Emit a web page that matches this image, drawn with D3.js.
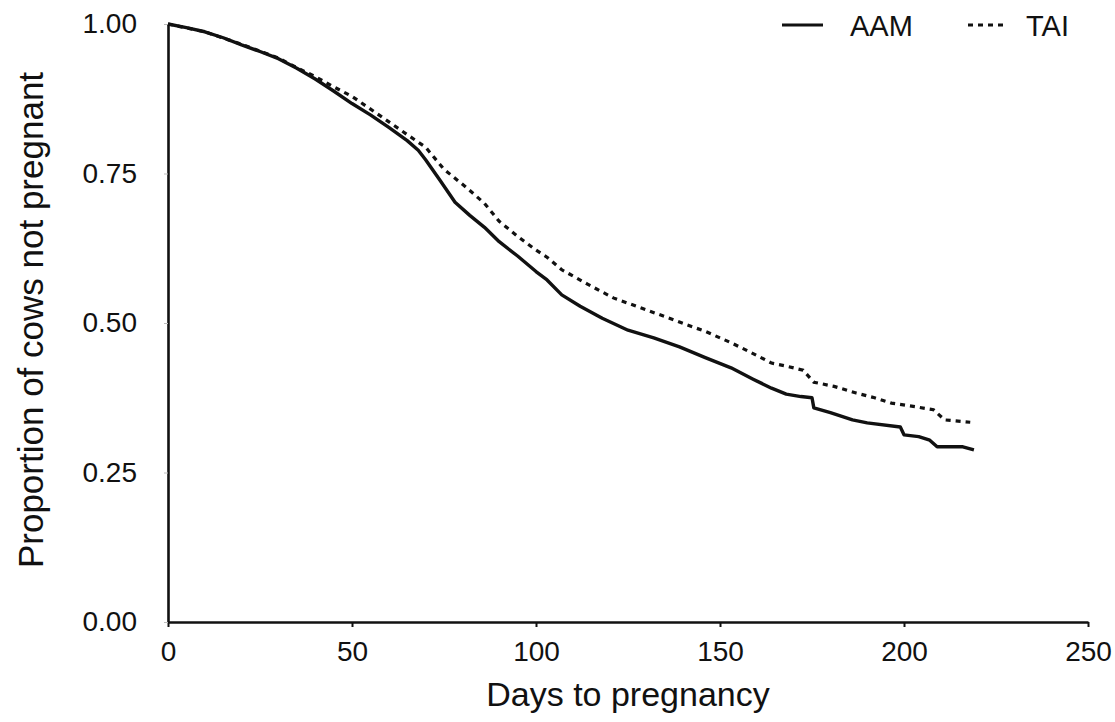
<!DOCTYPE html>
<html>
<head>
<meta charset="utf-8">
<script src="https://cdn.jsdelivr.net/npm/d3@7"></script>
<style>
  html, body { margin: 0; padding: 0; background: #fff; }
  svg text { font-family: "Liberation Sans", Arial, Helvetica, sans-serif; fill: #111; }
</style>
</head>
<body>
<svg id="chart" width="1115" height="722"></svg>
<script>
// ---- Data (repeated days mark visible vertical steps) ----
const aamDays = [0,5,10,15,20,25,30,35,40,45,50,55,60,65,68,70,74,78,82,86,90,95,100,103,107,112,118,125,132,139,146,153,159,164,168,172,175,175.5,180,186,190,199,200,204,207,209,216,219];
const aamSurv = [1.000,0.994,0.987,0.977,0.965,0.954,0.942,0.926,0.908,0.888,0.867,0.848,0.827,0.805,0.789,0.773,0.738,0.702,0.680,0.660,0.636,0.612,0.586,0.572,0.547,0.528,0.508,0.488,0.475,0.460,0.442,0.425,0.406,0.391,0.381,0.377,0.375,0.358,0.350,0.338,0.333,0.326,0.313,0.310,0.304,0.293,0.293,0.288];

const taiDays = [0,10,20,30,35,40,45,50,58,65,70,75,81,86,90,95,100,103,107,114,121,130,141,146,153,158,164,168,172.6,175.5,181,187,192,196.6,203,208,211,218];
const taiSurv = [1.000,0.987,0.966,0.943,0.927,0.912,0.895,0.879,0.845,0.815,0.794,0.757,0.727,0.700,0.670,0.645,0.622,0.610,0.589,0.565,0.542,0.522,0.497,0.486,0.467,0.452,0.433,0.428,0.421,0.401,0.394,0.383,0.375,0.366,0.360,0.355,0.338,0.334];

const xTicks = [0, 50, 100, 150, 200, 250];
const yTicks = [0, 0.25, 0.5, 0.75, 1.0];
const seriesNames = ["AAM", "TAI"];
const xTitle = "Days to pregnancy";
const yTitle = "Proportion of cows not pregnant";

// ---- Layout ----
const svg = d3.select("#chart");
const x = d3.scaleLinear().domain([0, 250]).range([168, 1088]);
const y = d3.scaleLinear().domain([0, 1]).range([622, 24]);

// Axes
const xAxis = d3.axisBottom(x).tickValues(xTicks).tickFormat(d3.format("d")).tickSizeOuter(0).tickSizeInner(5).tickPadding(14);
const gx = svg.append("g").attr("transform", `translate(0,${y(0)})`).call(xAxis);
gx.select(".domain").attr("stroke", "#111").attr("stroke-width", 2.6);
gx.selectAll(".tick line").attr("stroke", "#111").attr("stroke-width", 2);
gx.selectAll(".tick text").attr("font-size", 28).attr("font-family", "Liberation Sans, Arial, sans-serif").attr("fill", "#111");

const yAxis = d3.axisLeft(y).tickValues(yTicks).tickFormat(d3.format(".2f")).tickSizeOuter(0).tickSizeInner(4).tickPadding(27);
const gy = svg.append("g").attr("transform", `translate(${x(0)},0)`).call(yAxis);
gy.select(".domain").attr("stroke", "#111").attr("stroke-width", 2.6);
gy.selectAll(".tick line").attr("stroke", "#bbb").attr("stroke-width", 1);
gy.selectAll(".tick text").attr("font-size", 28).attr("font-family", "Liberation Sans, Arial, sans-serif").attr("fill", "#111");

// Curves
const line = d3.line().x(d => x(d[0])).y(d => y(d[1])).curve(d3.curveLinear);
const aamData = aamDays.map((d, i) => [d, aamSurv[i]]);
const taiData = taiDays.map((d, i) => [d, taiSurv[i]]);

svg.append("path").datum(taiData).attr("d", line)
  .attr("fill", "none").attr("stroke", "#111").attr("stroke-width", 3.2)
  .attr("stroke-dasharray", "5,5");
svg.append("path").datum(aamData).attr("d", line)
  .attr("fill", "none").attr("stroke", "#111").attr("stroke-width", 3.4)
  .attr("stroke-linejoin", "round");

// Titles
svg.append("text").attr("x", 628).attr("y", 706).attr("text-anchor", "middle")
  .attr("font-size", 34).text(xTitle);
svg.append("text").attr("transform", "translate(43,320) rotate(-90)").attr("text-anchor", "middle")
  .attr("font-size", 35).text(yTitle);

// Legend
const leg = svg.append("g");
leg.append("line").attr("x1", 782).attr("x2", 823).attr("y1", 25).attr("y2", 25)
  .attr("stroke", "#111").attr("stroke-width", 3);
leg.append("text").attr("x", 850).attr("y", 36).attr("font-size", 29).text(seriesNames[0]);
leg.append("line").attr("x1", 968).attr("x2", 1008).attr("y1", 25).attr("y2", 25)
  .attr("stroke", "#111").attr("stroke-width", 3).attr("stroke-dasharray", "5,5");
leg.append("text").attr("x", 1026).attr("y", 36).attr("font-size", 29).text(seriesNames[1]);
</script>
</body>
</html>
